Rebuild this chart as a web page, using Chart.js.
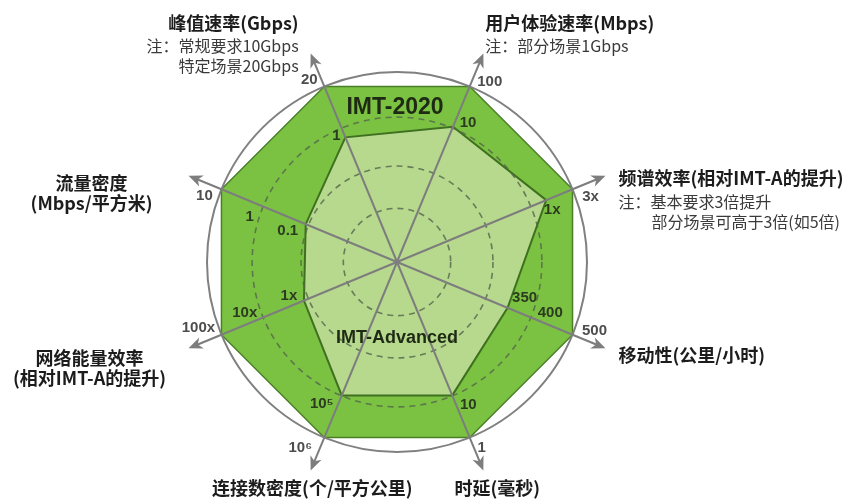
<!DOCTYPE html>
<html>
<head>
<meta charset="utf-8">
<title>IMT-2020</title>
<script src="https://cdn.jsdelivr.net/npm/chart.js@4.4.0/dist/chart.umd.min.js"></script>
<style>
  html, body { margin: 0; padding: 0; background: #fff; }
  #wrap { width: 851px; height: 503px; position: relative; }
</style>
</head>
<body>
<div id="wrap"><canvas id="radar"></canvas></div>
<script>
// axes, clockwise from the upper right one
const axisNames = ["用户体验速率", "频谱效率", "移动性", "时延", "连接数密度", "网络能量效率", "流量密度", "峰值速率"];
// corner of each polygon on every axis (scale units 0..4)
const imt2020 = [4, 4, 4, 4, 4, 4, 4, 4];
const imtAdvanced = [3.08, 3.4, 2.52, 3.04, 3.04, 2.12, 2.08, 2.84];
// rings: three dashed ones and the outer circle
const ringValues = [0, 1.13, 2.02, 3.05, 4];
// tick labels along each axis
const tickValues = [[3.08, 4], [3.4, 4], [2.52, 3.4, 4], [3.04, 4], [3.04, 4], [2.12, 3.4, 4], [2.08, 3.2, 4], [2.84, 4]];
const tickTexts = [["10", "100"], ["1x", "3x"], ["350", "400", "500"], ["10", "1"], ["10⁵", "10⁶"], ["1x", "10x", "100x"], ["0.1", "1", "10"], ["1", "20"]];
// axis titles and notes
const axisTitles = [["用户体验速率(Mbps)"], ["频谱效率(相对IMT-A的提升)"], ["移动性(公里/小时)"], ["时延(毫秒)"],
  ["连接数密度(个/平方公里)"], ["网络能量效率", "(相对IMT-A的提升)"], ["流量密度", "(Mbps/平方米)"], ["峰值速率(Gbps)"]];
const axisNotes = [["注：部分场景1Gbps"], ["注：基本要求3倍提升", "部分场景可高于3倍(如5倍)"], [], [], [], [], [],
  ["注：常规要求10Gbps", "特定场景20Gbps"]];

// label placement (pixels from the anchor point)
const tickOffsets = [[[15, -4], [20, -5]], [[6, 10], [18, 8]], [[17, -10], [4, -11], [22, -4]], [[16, 9], [12, 10]],
  [[-20, 8], [-24, 10]], [[-15, -5], [-3, -11], [-23, -7]], [[-18, 7], [-7, 13], [-17, 7]], [[-9, -2], [-15, -7]]];
const titleLayout = [
  { align: "left", dx: 2, dy: -30 },
  { align: "left", dx: 13, dy: 2 },
  { align: "left", dx: 13, dy: 7 },
  { align: "center", dx: 14, dy: 18 },
  { align: "right", dx: 102, dy: 18 },
  { align: "center", dx: -99, dy: 10 },
  { align: "center", dx: -97, dy: 7 },
  { align: "right", dx: -12, dy: -30 }
];
const noteLayout = [[[2, -8]], [[13, 26], [46, 46]], [], [], [], [], [], [[-12, -8], [-12, 12]]];
const arrowValue = 4.75;
const last = ringValues.length - 1;

const overlay = {
  id: "overlay",
  afterDraw(chart) {
    const r = chart.scales.r;
    const ctx = chart.ctx;
    const rOuter = r.getDistanceFromCenterForValue(4);
    const rTip = r.getDistanceFromCenterForValue(arrowValue);
    ctx.save();

    // spokes past the circle, with arrow heads
    axisNames.forEach((name, i) => {
      const a = r.getPointPosition(i, rOuter);
      const t = r.getPointPosition(i, rTip);
      const ang = Math.atan2(t.y - a.y, t.x - a.x);
      ctx.strokeStyle = "#7d7d7d";
      ctx.fillStyle = "#7d7d7d";
      ctx.lineWidth = 2;
      ctx.beginPath();
      ctx.moveTo(a.x, a.y);
      ctx.lineTo(t.x - 6 * Math.cos(ang), t.y - 6 * Math.sin(ang));
      ctx.stroke();
      ctx.beginPath();
      ctx.moveTo(t.x, t.y);
      ctx.lineTo(t.x - 14 * Math.cos(ang) + 6 * Math.sin(ang), t.y - 14 * Math.sin(ang) - 6 * Math.cos(ang));
      ctx.lineTo(t.x - 10 * Math.cos(ang), t.y - 10 * Math.sin(ang));
      ctx.lineTo(t.x - 14 * Math.cos(ang) - 6 * Math.sin(ang), t.y - 14 * Math.sin(ang) + 6 * Math.cos(ang));
      ctx.closePath();
      ctx.fill();
    });

    // tick labels
    ctx.textAlign = "center";
    ctx.textBaseline = "middle";
    ctx.font = "bold 15px 'Liberation Sans', Arial, sans-serif";
    tickValues.forEach((vals, i) => {
      vals.forEach((v, k) => {
        const p = r.getPointPositionForValue(i, v);
        const off = tickOffsets[i][k];
        ctx.fillStyle = v >= 4 ? "#4d4d4d" : "#2c3b20";
        ctx.fillText(tickTexts[i][k], p.x + off[0], p.y + off[1]);
      });
    });

    // axis titles and notes
    axisNames.forEach((name, i) => {
      const t = r.getPointPosition(i, rTip);
      const lay = titleLayout[i];
      ctx.textAlign = lay.align;
      ctx.fillStyle = "#1c1c1c";
      ctx.font = "bold 18px 'Noto Sans CJK SC', sans-serif";
      axisTitles[i].forEach((line, k) => {
        ctx.fillText(line, t.x + lay.dx, t.y + lay.dy + k * 20);
      });
      ctx.fillStyle = "#3a3a3a";
      ctx.font = "16px 'Noto Sans CJK SC', sans-serif";
      axisNotes[i].forEach((line, k) => {
        const off = noteLayout[i][k];
        ctx.fillText(line, t.x + off[0], t.y + off[1]);
      });
    });

    // series names
    ctx.textAlign = "center";
    ctx.fillStyle = "#1e2a14";
    ctx.font = "bold 23px 'Liberation Sans', Arial, sans-serif";
    ctx.fillText("IMT-2020", r.xCenter - 2, r.yCenter - r.getDistanceFromCenterForValue(3.25));
    ctx.font = "bold 18px 'Liberation Sans', Arial, sans-serif";
    ctx.fillText("IMT-Advanced", r.xCenter, r.yCenter + r.getDistanceFromCenterForValue(1.6));
    ctx.restore();
  }
};

new Chart(document.getElementById("radar"), {
  type: "radar",
  data: {
    labels: axisNames,
    datasets: [
      {
        label: "IMT-Advanced",
        data: imtAdvanced,
        backgroundColor: "#b6d98e",
        borderColor: "#3f701f",
        borderWidth: 2,
        fill: true
      },
      {
        label: "IMT-2020",
        data: imt2020,
        backgroundColor: "#7bc243",
        borderColor: "#4a7f27",
        borderWidth: 1.5,
        fill: true
      }
    ]
  },
  options: {
    responsive: true,
    maintainAspectRatio: false,
    animation: false,
    layout: { padding: { left: 207, right: 264, top: 72, bottom: 51 } },
    elements: {
      line: { tension: 0, borderJoinStyle: "miter" },
      point: { radius: 0, hoverRadius: 0 }
    },
    plugins: {
      legend: { display: false },
      tooltip: { enabled: false }
    },
    scales: {
      r: {
        min: 0,
        max: 4,
        startAngle: 22.5,
        afterBuildTicks: (s) => { s.ticks = ringValues.map((v) => ({ value: v })); },
        ticks: { display: false },
        pointLabels: { display: false },
        angleLines: { color: "#7d7d7d", lineWidth: 2 },
        grid: {
          z: 1,
          circular: true,
          color: (c) => (c.index === last ? "#808080" : "rgba(85,100,75,0.8)"),
          lineWidth: (c) => (c.index === last ? 2 : 1.6)
        },
        border: { dash: (c) => (c.index === last ? [] : [6, 5]) }
      }
    }
  },
  plugins: [overlay]
});
</script>
</body>
</html>
